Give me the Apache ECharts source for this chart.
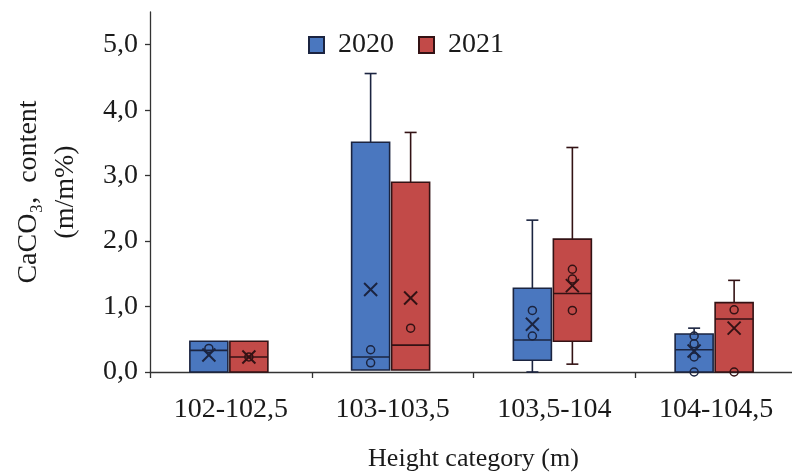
<!DOCTYPE html>
<html>
<head>
<meta charset="utf-8">
<script src="https://cdn.jsdelivr.net/npm/echarts@6/dist/echarts.min.js"></script>
<style>
  html, body { margin: 0; padding: 0; background: #fff; }
  #chart { width: 792px; height: 472px; }
</style>
</head>
<body>
<div id="chart"></div>
<script>
// Height categories along the slope
const categories = ['102-102,5', '103-103,5', '103,5-104', '104-104,5'];

// Box statistics per category: [low whisker, Q1, median, Q3, high whisker]
const box2020 = [
  [0, 0, 0.33, 0.47, 0.47],
  [0.03, 0.03, 0.23, 3.51, 4.56],
  [0, 0.18, 0.49, 1.28, 2.32],
  [0, 0, 0.34, 0.58, 0.67]
];
const box2021 = [
  [0, 0, 0.23, 0.47, 0.47],
  [0.03, 0.03, 0.41, 2.90, 3.66],
  [0.12, 0.47, 1.20, 2.03, 3.43],
  [0, 0, 0.81, 1.06, 1.40]
];

// Mean values (cross markers)
const mean2020 = [0.26, 1.26, 0.73, 0.32];
const mean2021 = [0.23, 1.13, 1.32, 0.67];

// Individual sample values (open circles)
const points2020 = [[0.36], [0.34, 0.14], [0.94, 0.55], [0.55, 0.43, 0.23, 0]];
const points2021 = [[0.23], [0.67], [1.57, 1.42, 0.94], [0.95, 0]];

// Y-axis tick values
const yTicks = [0, 1, 2, 3, 4, 5];

const FONT = '"Liberation Serif", "Times New Roman", serif';
const BLUE = '#4a77bf';
const RED = '#c24a48';
const BLUE_DARK = '#1b2440';
const RED_DARK = '#331214';
const OFFSET_2020 = -22;
const OFFSET_2021 = 18;
const BOX_HALF = 19;
const CAP_HALF = 6;

function boxRows(stats) {
  return stats.map((s, i) => [i].concat(s));
}
function meanRows(means) {
  return means.map((m, i) => [i, m]);
}
function pointRows(pts) {
  const rows = [];
  pts.forEach((list, i) => list.forEach(v => rows.push([i, v])));
  return rows;
}

function boxRenderer(offset, fill, stroke) {
  return function (params, api) {
    const cat = api.value(0);
    const cx = api.coord([cat, 0])[0] + offset;
    const yOf = k => api.coord([cat, api.value(k)])[1];
    const low = yOf(1), q1 = yOf(2), med = yOf(3), q3 = yOf(4), high = yOf(5);
    const ls = { stroke: stroke, lineWidth: 1.6 };
    const children = [];
    if (q3 - high > 0.5) {
      children.push({ type: 'line', shape: { x1: cx, y1: q3, x2: cx, y2: high }, style: ls });
      children.push({ type: 'line', shape: { x1: cx - CAP_HALF, y1: high, x2: cx + CAP_HALF, y2: high }, style: ls });
    }
    if (low - q1 > 0.5) {
      children.push({ type: 'line', shape: { x1: cx, y1: q1, x2: cx, y2: low }, style: ls });
      children.push({ type: 'line', shape: { x1: cx - CAP_HALF, y1: low, x2: cx + CAP_HALF, y2: low }, style: ls });
    }
    children.push({
      type: 'rect',
      shape: { x: cx - BOX_HALF, y: q3, width: BOX_HALF * 2, height: q1 - q3 },
      style: { fill: fill, stroke: stroke, lineWidth: 1.6 }
    });
    children.push({ type: 'line', shape: { x1: cx - BOX_HALF, y1: med, x2: cx + BOX_HALF, y2: med }, style: ls });
    return { type: 'group', children: children };
  };
}

function crossRenderer(offset, stroke) {
  return function (params, api) {
    const p = api.coord([api.value(0), api.value(1)]);
    const x = p[0] + offset, y = p[1], r = 6.5;
    const st = { stroke: stroke, lineWidth: 2 };
    return {
      type: 'group',
      children: [
        { type: 'line', shape: { x1: x - r, y1: y - r, x2: x + r, y2: y + r }, style: st },
        { type: 'line', shape: { x1: x - r, y1: y + r, x2: x + r, y2: y - r }, style: st }
      ]
    };
  };
}

const chart = echarts.init(document.getElementById('chart'));
chart.setOption({
  animation: false,
  backgroundColor: '#fff',
  grid: { left: 150, right: -5, top: 12, bottom: 100, outerBoundsMode: 'none', containLabel: false },
  legend: {
    data: ['2020', '2021'],
    left: 303,
    top: 26,
    icon: 'rect',
    itemWidth: 15,
    itemHeight: 16,
    itemGap: 24,
    textStyle: { fontFamily: FONT, fontSize: 28, color: '#1a1a1a', padding: [0, 0, 0, 9] }
  },
  xAxis: {
    type: 'category',
    data: categories,
    boundaryGap: true,
    axisLine: { lineStyle: { color: '#333', width: 1.3 } },
    axisTick: { show: true, length: 6, lineStyle: { color: '#333', width: 1.3 } },
    axisLabel: { fontFamily: FONT, fontSize: 28, color: '#1a1a1a', margin: 24 },
    name: 'Height category (m)',
    nameLocation: 'middle',
    nameGap: 74,
    nameTextStyle: { fontFamily: FONT, fontSize: 26, color: '#1a1a1a' }
  },
  yAxis: {
    type: 'value',
    min: 0,
    max: 5.5,
    interval: 1,
    splitLine: { show: false },
    axisLine: { show: true, lineStyle: { color: '#333', width: 1.3 } },
    axisTick: { show: true, length: 5, customValues: yTicks, lineStyle: { color: '#333', width: 1.3 } },
    axisLabel: {
      customValues: yTicks,
      fontFamily: FONT, fontSize: 28, color: '#1a1a1a', margin: 12,
      formatter: v => v.toFixed(1).replace('.', ',')
    },
    name: 'CaCO\u2083,  content\n(m/m%)',
    nameLocation: 'middle',
    nameRotate: 90,
    nameGap: 66,
    nameTextStyle: { fontFamily: FONT, fontSize: 28, color: '#1a1a1a', lineHeight: 37, align: 'center' }
  },
  series: [
    {
      name: '2020', type: 'custom', data: boxRows(box2020),
      encode: { x: 0, y: [1, 2, 3, 4, 5] },
      itemStyle: { color: BLUE, borderColor: BLUE_DARK, borderWidth: 1.3 },
      renderItem: boxRenderer(OFFSET_2020, BLUE, BLUE_DARK), z: 2
    },
    {
      name: '2021', type: 'custom', data: boxRows(box2021),
      encode: { x: 0, y: [1, 2, 3, 4, 5] },
      itemStyle: { color: RED, borderColor: RED_DARK, borderWidth: 1.3 },
      renderItem: boxRenderer(OFFSET_2021, RED, RED_DARK), z: 2
    },
    {
      name: '2020 mean', type: 'custom', data: meanRows(mean2020),
      encode: { x: 0, y: 1 }, renderItem: crossRenderer(OFFSET_2020, BLUE_DARK), z: 4
    },
    {
      name: '2021 mean', type: 'custom', data: meanRows(mean2021),
      encode: { x: 0, y: 1 }, renderItem: crossRenderer(OFFSET_2021, RED_DARK), z: 4
    },
    {
      name: '2020 samples', type: 'scatter', data: pointRows(points2020),
      symbol: 'circle', symbolSize: 8, symbolOffset: [OFFSET_2020, 0],
      itemStyle: { color: 'rgba(0,0,0,0)', borderColor: BLUE_DARK, borderWidth: 1.5, opacity: 1 }, z: 5
    },
    {
      name: '2021 samples', type: 'scatter', data: pointRows(points2021),
      symbol: 'circle', symbolSize: 8, symbolOffset: [OFFSET_2021, 0],
      itemStyle: { color: 'rgba(0,0,0,0)', borderColor: RED_DARK, borderWidth: 1.5, opacity: 1 }, z: 5
    }
  ]
});
</script>
</body>
</html>
